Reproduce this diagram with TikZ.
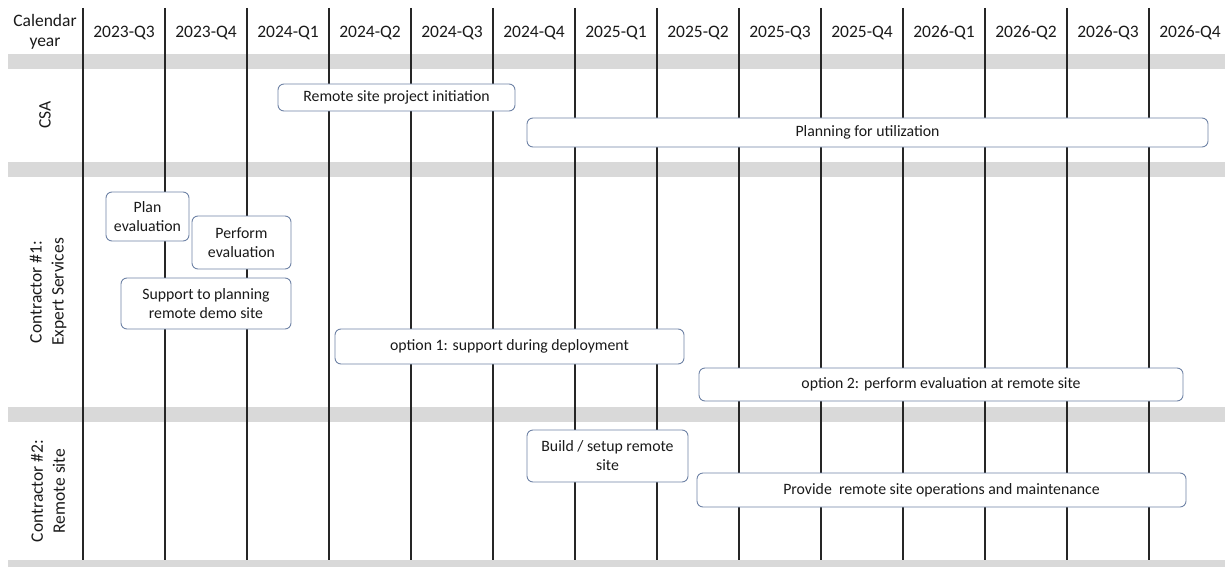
\documentclass[tikz,border=0pt]{standalone}
\usepackage{fontspec}
\setmainfont{Carlito}
\definecolor{txt}{HTML}{1A1A1A}
\definecolor{band}{HTML}{D9D9D9}
\definecolor{bord}{HTML}{6F83A6}
\begin{document}
\begin{tikzpicture}[x=1pt,y=-1pt,
  hdr/.style={text=txt,font=\fontsize{17.5}{20.5}\selectfont,align=center,inner sep=0pt},
  rowlbl/.style={text=txt,font=\fontsize{17.5}{22}\selectfont,align=center,rotate=90,inner sep=0pt},
  task/.style={draw=bord,line width=0.9pt,fill=white,rounded corners=6pt,text=txt,
    font=\fontsize{15.8}{19}\selectfont,align=center,inner sep=0pt},
  grid/.style={line width=1.3pt,draw=black!85}]
\useasboundingbox (0,0) rectangle (1225,567);
% gray bands
\fill[band] (8,54) rectangle (1225,69);
\fill[band] (8,162) rectangle (1225,177);
\fill[band] (8,407) rectangle (1225,422);
\fill[band] (8,560) rectangle (1225,567);
% vertical grid lines
\draw[grid,line width=1.8pt] (83,8) -- (83,560);
\foreach \k in {1,...,13}{
  \draw[grid] ({83+82*\k},8) -- ({83+82*\k},560);
}
% header
\node[hdr] (cal) at (45,32) {Calendar\\year};
\foreach \lab [count=\i from 0] in {2023-Q3,2023-Q4,2024-Q1,2024-Q2,2024-Q3,2024-Q4,2025-Q1,2025-Q2,2025-Q3,2025-Q4,2026-Q1,2026-Q2,2026-Q3,2026-Q4}{
  \node[hdr] (q\i) at ({124+82*\i},33) {\lab};
}
% row labels
\node[rowlbl] (csa) at (45,115) {CSA};
\node[rowlbl] (c1) at (48,292) {Contractor \#1:\\Expert Services};
\node[rowlbl] (c2) at (48,491) {Contractor \#2:\\Remote site};
% tasks
\node[task,minimum width=237pt,minimum height=27pt] (init) at (396.5,97.5) {Remote site project initiation};
\node[task,minimum width=681pt,minimum height=29pt] (util) at (867.5,132.5) {Planning for utilization};
\node[task,minimum width=83pt,minimum height=49pt] (plan) at (147.5,216.5) {Plan\\evaluation};
\node[task,minimum width=99pt,minimum height=53pt] (perf) at (241.5,242.5) {Perform\\evaluation};
\node[task,minimum width=170pt,minimum height=51pt] (supp) at (206,303.5) {Support to planning\\remote demo site};
\node[task,minimum width=349pt,minimum height=35pt] (opt1) at (509.5,346.5) {option 1: support during deployment};
\node[task,minimum width=484pt,minimum height=33pt] (opt2) at (941,384.5) {option 2: perform evaluation at remote site};
\node[task,minimum width=161pt,minimum height=52pt] (build) at (607.5,456) {Build / setup remote\\site};
\node[task,minimum width=489pt,minimum height=34pt] (prov) at (941.5,490) {Provide\ \ remote site operations and maintenance};
\end{tikzpicture}
\end{document}
